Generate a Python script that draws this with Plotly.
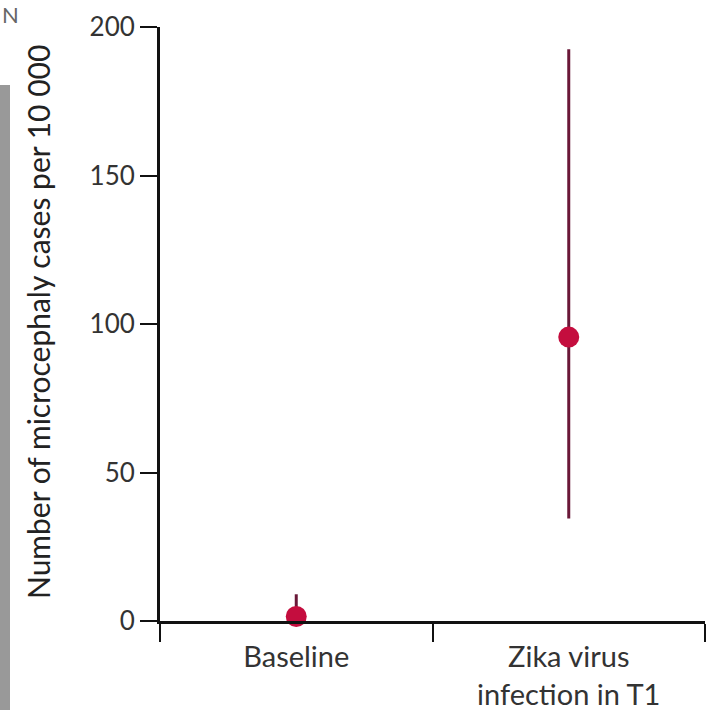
import plotly.graph_objects as go

categories = ["Baseline", "Zika virus<br>infection in T1"]
estimates = [1.5, 95.6]
upper_ci = [9.0, 192.5]
lower_ci = [0.0, 34.5]
y_ticks = [0, 50, 100, 150, 200]

err_plus = [u - e for u, e in zip(upper_ci, estimates)]
err_minus = [e - l for e, l in zip(estimates, lower_ci)]

W, H = 710, 710
L, R, T, B = 160, 5, 27, 89
pw, ph = W - L - R, H - T - B

def px(x):
    return (x - L) / pw

def py(y):
    return (H - B - y) / ph

fig = go.Figure()
fig.add_trace(go.Scatter(
    x=categories, y=estimates, mode="markers",
    marker=dict(size=21, color="#c40d3e", line=dict(width=0)),
    error_y=dict(type="data", symmetric=False, array=err_plus, arrayminus=err_minus,
                 color="#6a1838", thickness=3, width=0),
    showlegend=False, cliponaxis=False,
))

fig.update_layout(
    width=W, height=H, margin=dict(l=L, r=R, t=T, b=B, autoexpand=False),
    paper_bgcolor="white", plot_bgcolor="white",
    font=dict(family="Lato, Open Sans, sans-serif", color="#333333", size=24),
    xaxis=dict(type="category", range=[-0.5, 1.5], showgrid=False, zeroline=False,
               showline=True, linecolor="#111111", linewidth=3, automargin=False,
               ticks="outside", tickson="boundaries", ticklen=18, tickwidth=2, tickcolor="#111111",
               ticklabelstandoff=8,
               tickfont=dict(size=29, color="#333333")),
    yaxis=dict(range=[0, 200], tickvals=y_ticks, showgrid=False, zeroline=False,
               showline=True, linecolor="#111111", linewidth=3, automargin=False,
               ticks="outside", ticklen=17, tickwidth=2, tickcolor="#111111",
               tickfont=dict(size=26, color="#333333")),
    shapes=[dict(type="rect", xref="paper", yref="paper",
                 x0=px(0), x1=px(10), y0=py(85), y1=py(712),
                 fillcolor="#999999", line=dict(width=0), layer="above")],
    annotations=[
        dict(text="Number of microcephaly cases per 10 000", textangle=-90,
             xref="paper", yref="paper", x=px(38), y=py(322), showarrow=False,
             font=dict(size=30, color="#222222"), xanchor="center", yanchor="middle"),
        dict(text="N", xref="paper", yref="paper", x=px(0), y=py(14), showarrow=False,
             font=dict(size=22, color="#666666"), xanchor="left", yanchor="middle"),
    ],
)

fig.write_html("out.html", config={"displayModeBar": False},
               post_script="document.body.style.margin='0';")
